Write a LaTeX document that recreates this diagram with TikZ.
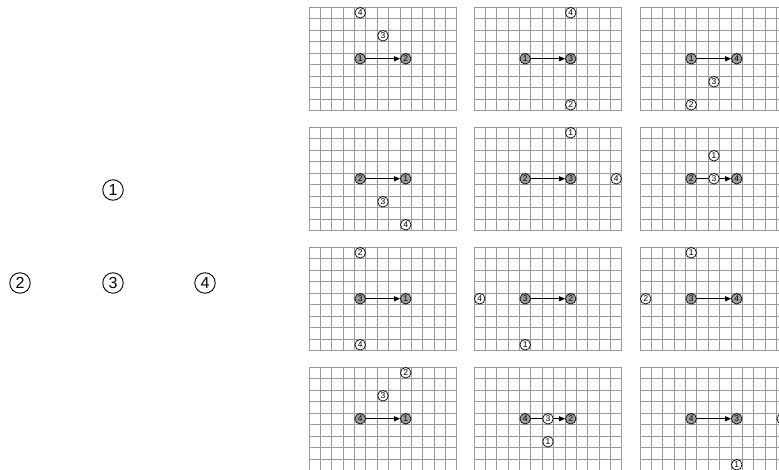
\documentclass[tikz,border=0pt]{standalone}
\usepackage{fontspec}
\setmainfont{Liberation Sans}
\usetikzlibrary{arrows.meta}
\pgfdeclarelayer{gridl}
\pgfdeclarelayer{edges}
\pgfsetlayers{gridl,edges,main}
\definecolor{gridc}{HTML}{9A9A9A}
\definecolor{nodeg}{HTML}{A0A0A0}
\tikzset{
  gridln/.style={draw=gridc,line width=0.9pt},
  sn/.style={circle,draw=black,line width=0.7pt,inner sep=0pt,minimum size=10.6pt,font=\fontsize{8.5}{9}\selectfont},
  gn/.style={sn,fill=nodeg},
  wn/.style={sn,fill=white},
  arr/.style={-{Triangle[length=6pt,width=5pt]},line width=0.8pt},
  bign/.style={circle,draw=black,line width=0.9pt,inner sep=0pt,minimum size=20.5pt,font=\fontsize{16}{17}\selectfont}
}
\newcommand\pgridlines{%
  \begin{pgfonlayer}{gridl}
  \foreach \i in {0,...,13} \draw[gridln] (\i,0) -- (\i,9);
  \foreach \j in {0,...,9} \draw[gridln] (0,\j) -- (13,\j);
  \end{pgfonlayer}}
\begin{document}
\begin{tikzpicture}[x=1pt,y=-1pt]
\useasboundingbox (0,0) rectangle (779,470);
\clip (0,0) rectangle (779,470);
% left tree
\node[bign] (L1) at (113,190) {1};
\node[bign] (L2) at (20,283) {2};
\node[bign] (L3) at (113,283) {3};
\node[bign] (L4) at (205,283) {4};
% panel 1
\begin{scope}[shift={(309,7)},x=11.38pt,y=-11.5pt]
\pgridlines
\node[gn] (a1) at (4.5,4.5) {1};
\node[gn] (a2) at (8.5,4.5) {2};
\node[wn] (a3) at (6.5,2.5) {3};
\node[wn] (a4) at (4.5,0.5) {4};
\begin{pgfonlayer}{edges}\draw[arr] (a1) -- (a2);\end{pgfonlayer}
\end{scope}
% panel 2
\begin{scope}[shift={(474,7)},x=11.38pt,y=-11.5pt]
\pgridlines
\node[gn] (b1) at (4.5,4.5) {1};
\node[gn] (b3) at (8.5,4.5) {3};
\node[wn] (b4) at (8.5,0.5) {4};
\node[wn] (b2) at (8.5,8.5) {2};
\begin{pgfonlayer}{edges}\draw[arr] (b1) -- (b3);\end{pgfonlayer}
\end{scope}
% panel 3
\begin{scope}[shift={(640,7)},x=11.38pt,y=-11.5pt]
\pgridlines
\node[gn] (c1) at (4.5,4.5) {1};
\node[gn] (c4) at (8.5,4.5) {4};
\node[wn] (c3) at (6.5,6.5) {3};
\node[wn] (c2) at (4.5,8.5) {2};
\begin{pgfonlayer}{edges}\draw[arr] (c1) -- (c4);\end{pgfonlayer}
\end{scope}
% panel 4
\begin{scope}[shift={(309,127)},x=11.38pt,y=-11.5pt]
\pgridlines
\node[gn] (d2) at (4.5,4.5) {2};
\node[gn] (d1) at (8.5,4.5) {1};
\node[wn] (d3) at (6.5,6.5) {3};
\node[wn] (d4) at (8.5,8.5) {4};
\begin{pgfonlayer}{edges}\draw[arr] (d2) -- (d1);\end{pgfonlayer}
\end{scope}
% panel 5
\begin{scope}[shift={(474,127)},x=11.38pt,y=-11.5pt]
\pgridlines
\node[gn] (e2) at (4.5,4.5) {2};
\node[gn] (e3) at (8.5,4.5) {3};
\node[wn] (e1) at (8.5,0.5) {1};
\node[wn] (e4) at (12.5,4.5) {4};
\begin{pgfonlayer}{edges}\draw[arr] (e2) -- (e3);\end{pgfonlayer}
\end{scope}
% panel 6
\begin{scope}[shift={(640,127)},x=11.38pt,y=-11.5pt]
\pgridlines
\node[gn] (f2) at (4.5,4.5) {2};
\node[gn] (f4) at (8.5,4.5) {4};
\node[wn] (f3) at (6.5,4.5) {3};
\node[wn] (f1) at (6.5,2.5) {1};
\begin{pgfonlayer}{edges}\draw[arr] (f2) -- (f4);\end{pgfonlayer}
\end{scope}
% panel 7
\begin{scope}[shift={(309,247)},x=11.38pt,y=-11.5pt]
\pgridlines
\node[gn] (g3) at (4.5,4.5) {3};
\node[gn] (g1) at (8.5,4.5) {1};
\node[wn] (g2) at (4.5,0.5) {2};
\node[wn] (g4) at (4.5,8.5) {4};
\begin{pgfonlayer}{edges}\draw[arr] (g3) -- (g1);\end{pgfonlayer}
\end{scope}
% panel 8
\begin{scope}[shift={(474,247)},x=11.38pt,y=-11.5pt]
\pgridlines
\node[gn] (h3) at (4.5,4.5) {3};
\node[gn] (h2) at (8.5,4.5) {2};
\node[wn] (h4) at (0.5,4.5) {4};
\node[wn] (h1) at (4.5,8.5) {1};
\begin{pgfonlayer}{edges}\draw[arr] (h3) -- (h2);\end{pgfonlayer}
\end{scope}
% panel 9
\begin{scope}[shift={(640,247)},x=11.38pt,y=-11.5pt]
\pgridlines
\node[gn] (i3) at (4.5,4.5) {3};
\node[gn] (i4) at (8.5,4.5) {4};
\node[wn] (i1) at (4.5,0.5) {1};
\node[wn] (i2) at (0.5,4.5) {2};
\begin{pgfonlayer}{edges}\draw[arr] (i3) -- (i4);\end{pgfonlayer}
\end{scope}
% panel 10
\begin{scope}[shift={(309,367)},x=11.38pt,y=-11.5pt]
\pgridlines
\node[gn] (j4) at (4.5,4.5) {4};
\node[gn] (j1) at (8.5,4.5) {1};
\node[wn] (j3) at (6.5,2.5) {3};
\node[wn] (j2) at (8.5,0.5) {2};
\begin{pgfonlayer}{edges}\draw[arr] (j4) -- (j1);\end{pgfonlayer}
\end{scope}
% panel 11
\begin{scope}[shift={(474,367)},x=11.38pt,y=-11.5pt]
\pgridlines
\node[gn] (k4) at (4.5,4.5) {4};
\node[gn] (k2) at (8.5,4.5) {2};
\node[wn] (k3) at (6.5,4.5) {3};
\node[wn] (k1) at (6.5,6.5) {1};
\begin{pgfonlayer}{edges}\draw[arr] (k4) -- (k2);\end{pgfonlayer}
\end{scope}
% panel 12
\begin{scope}[shift={(640,367)},x=11.38pt,y=-11.5pt]
\pgridlines
\node[gn] (l4) at (4.5,4.5) {4};
\node[gn] (l3) at (8.5,4.5) {3};
\node[wn] (l1) at (8.5,8.5) {1};
\node[wn] (l2) at (12.5,4.5) {2};
\begin{pgfonlayer}{edges}\draw[arr] (l4) -- (l3);\end{pgfonlayer}
\end{scope}
\end{tikzpicture}
\end{document}
